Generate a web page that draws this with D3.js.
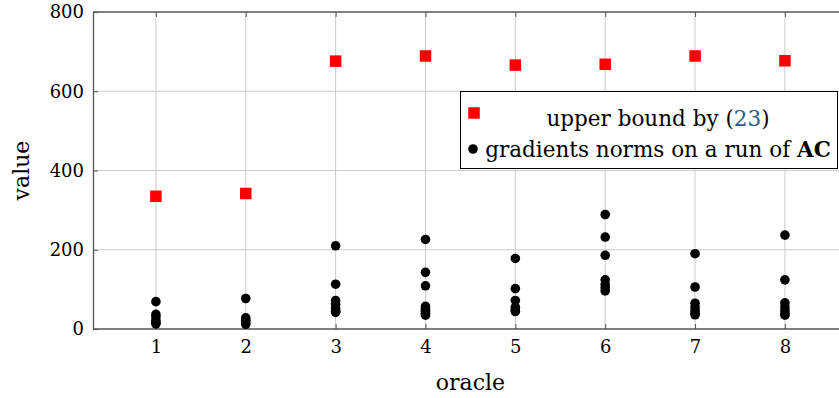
<!DOCTYPE html>
<html>
<head>
<meta charset="utf-8">
<script src="https://cdn.jsdelivr.net/npm/d3@7"></script>
<style>
  body { margin: 0; background: #fff; }
  svg text { font-family: "DejaVu Serif", serif; }
</style>
</head>
<body>
<svg width="839" height="398"></svg>
<script>
var oracles = [1, 2, 3, 4, 5, 6, 7, 8]
var xTicks = [1, 2, 3, 4, 5, 6, 7, 8]
var yTicks = [0, 200, 400, 600, 800]

// upper bound by (23), one per oracle
var upperBound = [335, 342, 676, 689, 666, 668, 689, 677]

// gradient norms on a run of AC, several per oracle
var gradNorms = [
    [69, 37, 30, 22, 16, 13],
    [77, 28, 22, 16, 12],
    [210, 113, 72, 62, 52, 45, 42],
    [226, 143, 109, 57, 50, 45, 40, 35],
    [178, 102, 72, 55, 48, 44],
    [289, 232, 186, 124, 112, 104, 96],
    [190, 106, 65, 55, 47, 40, 36],
    [237, 124, 66, 56, 48, 40, 35]
]

var svg = d3.select('svg')
var width = 839, height = 398
var margin = ({top: 12, right: 0, bottom: 69, left: 93})
var tickFont = '18px', labelFont = '22px', legendFont = '21.5px'

var x = d3.scaleLinear()
    .domain([0.3, 8.7])
    .range([margin.left, margin.left + 89.86 * 8.4])

var y = d3.scaleLinear()
    .domain([0, 800])
    .range([height - margin.bottom, margin.top])

var gridColor = '#cccccc', axisColor = '#555555'

// grid
svg.append('g').selectAll('line').data(xTicks)
    .enter().append('line')
    .attr('x1', d => x(d)).attr('x2', d => x(d))
    .attr('y1', y(0)).attr('y2', y(800))
    .attr('stroke', gridColor).attr('stroke-width', 1)
svg.append('g').selectAll('line').data(yTicks.slice(1, -1))
    .enter().append('line')
    .attr('x1', x(0.3)).attr('x2', width)
    .attr('y1', d => y(d)).attr('y2', d => y(d))
    .attr('stroke', gridColor).attr('stroke-width', 1)

// axes (ticks point inward)
var yAxis = svg.append('g')
    .attr('transform', `translate(${margin.left},0)`)
    .call(d3.axisLeft(y).tickValues(yTicks).tickSizeInner(-5).tickSizeOuter(0).tickPadding(9))
var xAxis = svg.append('g')
    .attr('transform', `translate(0,${y(0)})`)
    .call(d3.axisBottom(x).tickValues(xTicks).tickSizeInner(-5).tickSizeOuter(0).tickPadding(11))
var xTop = svg.append('g')
    .attr('transform', `translate(0,${y(800)})`)
    .call(d3.axisTop(x).tickValues(xTicks).tickSizeInner(-5).tickSizeOuter(0).tickFormat(''))

;[yAxis, xAxis, xTop].forEach(function(g) {
    g.attr('font-family', '"DejaVu Serif", serif').attr('font-size', tickFont)
    g.select('.domain').attr('stroke', axisColor).attr('stroke-width', 1.3)
    g.selectAll('.tick line').attr('stroke', axisColor)
    g.selectAll('.tick text').attr('fill', '#000')
})
xTop.select('.domain').attr('d', `M${x(0.3)},0H${width}`)
xAxis.select('.domain').attr('d', `M${x(0.3)},0H${width}`)

// data: gradient norms
var pts = []
gradNorms.forEach((vals, i) => vals.forEach(v => pts.push({o: oracles[i], v: v})))
svg.append('g').selectAll('circle').data(pts)
    .enter().append('circle')
    .attr('cx', d => x(d.o))
    .attr('cy', d => y(d.v))
    .attr('r', 4.8)
    .attr('fill', '#000')

// data: upper bound
var sq = 11.5
svg.append('g').selectAll('rect').data(upperBound)
    .enter().append('rect')
    .attr('x', (d, i) => x(oracles[i]) - sq / 2)
    .attr('y', d => y(d) - sq / 2)
    .attr('width', sq).attr('height', sq)
    .attr('fill', '#ff0000')

// axis labels
svg.append('text')
    .attr('x', x(4.5)).attr('y', 390)
    .attr('text-anchor', 'middle')
    .attr('font-size', labelFont)
    .text('oracle')
svg.append('text')
    .attr('transform', `translate(29,${(y(0) + y(800)) / 2}) rotate(-90)`)
    .attr('text-anchor', 'middle')
    .attr('font-size', labelFont)
    .text('value')

// legend
var legend = svg.append('g')
legend.append('rect')
    .attr('x', 460.5).attr('y', 91.5)
    .attr('width', 377).attr('height', 77)
    .attr('fill', '#fff').attr('stroke', '#000').attr('stroke-width', 1)
legend.append('rect')
    .attr('x', 474 - sq / 2).attr('y', 113 - sq / 2)
    .attr('width', sq).attr('height', sq)
    .attr('fill', '#ff0000')
legend.append('circle')
    .attr('cx', 473).attr('cy', 149).attr('r', 4.8).attr('fill', '#000')

var l1 = legend.append('text')
    .attr('x', 658).attr('y', 126)
    .attr('text-anchor', 'middle').attr('font-size', legendFont)
l1.append('tspan').text('upper bound by (')
l1.append('tspan').attr('fill', '#2a5a8c').text('23')
l1.append('tspan').text(')')

var l2 = legend.append('text')
    .attr('x', 658).attr('y', 157)
    .attr('text-anchor', 'middle').attr('font-size', legendFont)
l2.append('tspan').text('gradients norms on a run of ')
l2.append('tspan').attr('font-weight', 'bold').text('AC')
</script>
</body>
</html>
